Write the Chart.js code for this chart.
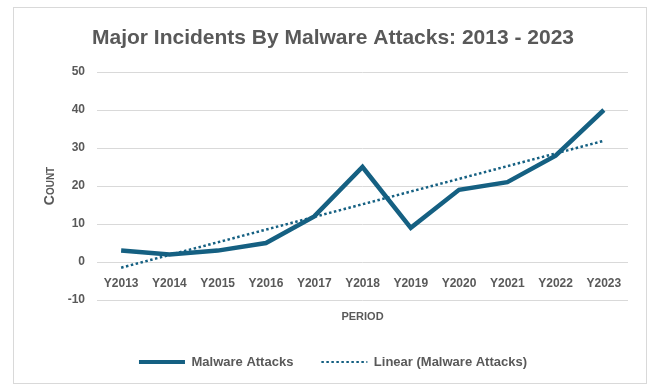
<!DOCTYPE html>
<html>
<head>
<meta charset="utf-8">
<script src="https://cdn.jsdelivr.net/npm/chart.js@4/dist/chart.umd.min.js"></script>
<style>
  html, body { margin: 0; padding: 0; background: #ffffff; }
  #wrap { position: relative; width: 652px; height: 386px; }
  #frame { position: absolute; left: 13px; top: 7px; width: 632px; height: 375px; border: 1px solid #d9d9d9; }
  #chart { position: absolute; left: 0; top: 0; }
</style>
</head>
<body>
<div id="wrap">
  <div id="frame"></div>
  <canvas id="chart" width="652" height="386"></canvas>
</div>
<script>
// Yearly periods on the category axis
const periods = ['Y2013', 'Y2014', 'Y2015', 'Y2016', 'Y2017', 'Y2018', 'Y2019', 'Y2020', 'Y2021', 'Y2022', 'Y2023'];
// Major incidents caused by malware attacks per year
const malwareAttacks = [3, 2, 3, 5, 12, 25, 9, 19, 21, 28, 40];
// Linear trend line: value at the first and at the last period
const trendEnds = [-1.5, 31.9];
// Value axis range and step
const yMin = -10, yMax = 50, yStep = 10;

const ink = '#595959';
const teal = '#156082';
const gridGray = '#d9d9d9';
const family = "'Liberation Sans', Arial, sans-serif";

// The trend line only has its two end values; the line spans the gap between them
const trendSeries = periods.map((p, i) =>
  i === 0 ? trendEnds[0] : (i === periods.length - 1 ? trendEnds[1] : null));

// Legend entries drawn as short line samples with each dataset's own width and dash
function lineLegendLabels(chart) {
  const items = Chart.defaults.plugins.legend.labels.generateLabels(chart);
  return items.map((item) => {
    const ds = chart.data.datasets[item.datasetIndex];
    item.lineDash = ds.borderDash || [];
    item.lineWidth = ds.legendLineWidth || ds.borderWidth;
    item.strokeStyle = ds.borderColor;
    item.lineCap = 'butt';
    return item;
  });
}

new Chart(document.getElementById('chart'), {
  type: 'line',
  data: {
    labels: periods,
    datasets: [
      {
        label: 'Malware Attacks',
        data: malwareAttacks,
        borderColor: teal,
        backgroundColor: teal,
        borderWidth: 4.5,
        legendLineWidth: 4,
        pointRadius: 0,
        pointHoverRadius: 0,
        tension: 0,
        xAxisID: 'x'
      },
      {
        label: 'Linear (Malware Attacks)',
        data: trendSeries,
        borderColor: teal,
        backgroundColor: teal,
        borderWidth: 2.5,
        legendLineWidth: 2,
        borderDash: [2.5, 2.5],
        pointRadius: 0,
        pointHoverRadius: 0,
        spanGaps: true,
        tension: 0,
        xAxisID: 'x'
      }
    ]
  },
  options: {
    responsive: false,
    animation: false,
    events: [],
    layout: { padding: { left: 38, right: 24, top: 8, bottom: 7.5 } },
    plugins: {
      title: {
        display: true,
        text: 'Major Incidents By Malware Attacks: 2013 - 2023',
        color: ink,
        font: { family: family, size: 21, weight: 'bold' },
        padding: { top: 17.4, bottom: 21.4 }
      },
      legend: {
        position: 'bottom',
        labels: {
          usePointStyle: true,
          pointStyle: 'line',
          pointStyleWidth: 46,
          padding: 28,
          color: ink,
          font: { family: family, size: 13, weight: 'bold' },
          generateLabels: lineLegendLabels
        }
      },
      tooltip: { enabled: false }
    },
    scales: {
      // category axis crossing the value axis at zero
      x: {
        type: 'category',
        position: { y: 0 },
        offset: true,
        grid: { display: false, drawTicks: false },
        border: { display: false },
        ticks: {
          color: ink,
          padding: 14,
          maxRotation: 0,
          autoSkip: false,
          font: { family: family, size: 12, weight: 'bold' }
        }
      },
      // bottom axis carrying the axis title
      xTitle: {
        type: 'category',
        position: 'bottom',
        offset: true,
        grid: { display: false, drawTicks: false },
        border: { display: false },
        ticks: { display: false },
        title: {
          display: true,
          text: 'PERIOD',
          color: ink,
          font: { family: family, size: 11, weight: 'bold' },
          padding: { top: 10, bottom: 4.3 }
        }
      },
      y: {
        min: yMin,
        max: yMax,
        ticks: {
          stepSize: yStep,
          color: ink,
          padding: 12,
          font: { family: family, size: 12, weight: 'bold' }
        },
        grid: { color: gridGray, lineWidth: 1, drawTicks: false },
        border: { display: false },
        title: {
          display: true,
          text: 'Count',
          color: ink,
          font: { family: family, size: 14, weight: 'small-caps bold' },
          padding: { top: 4, bottom: 4 }
        },
        afterFit: (scale) => { scale.width = 59; }
      }
    }
  }
});
</script>
</body>
</html>
